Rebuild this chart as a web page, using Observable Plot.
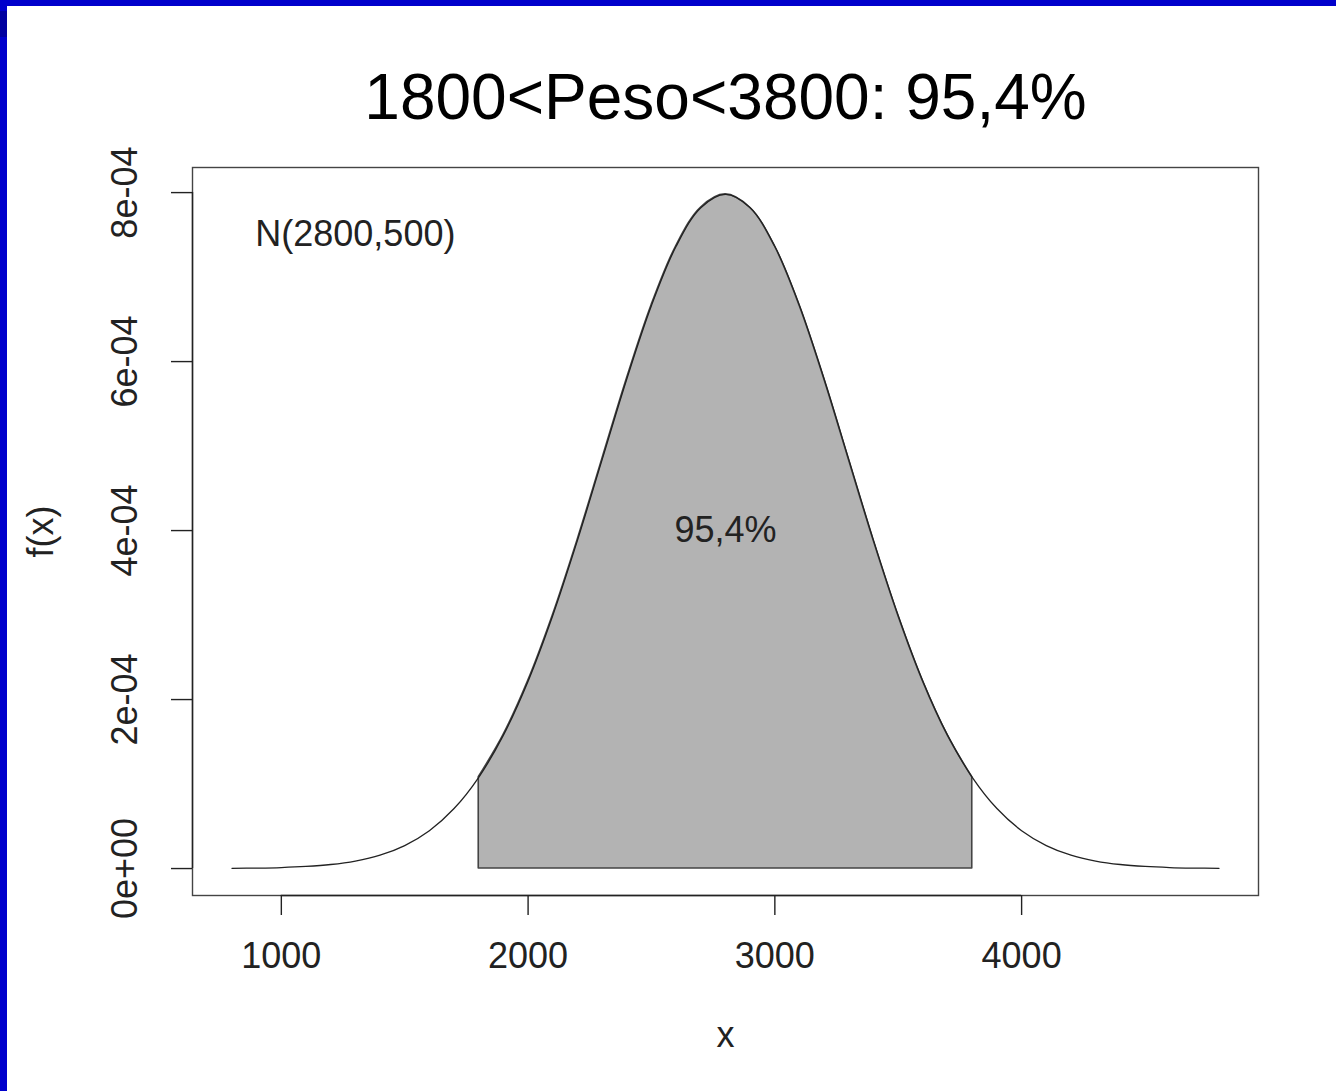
<!DOCTYPE html>
<html>
<head>
<meta charset="utf-8">
<script src="https://cdn.jsdelivr.net/npm/d3@7"></script>
<script src="https://cdn.jsdelivr.net/npm/@observablehq/plot@0.6"></script>
<style>
  html, body { margin: 0; padding: 0; background: #fff; }
  #wrap { position: relative; width: 1336px; height: 1091px; overflow: hidden; font-family: "Liberation Sans", Arial, sans-serif; }
  #chart { position: absolute; left: 0; top: 0; }
  .bar-top { position: absolute; left: 0; top: 0; width: 1336px; height: 6px; background: #0000cc; }
  .bar-left { position: absolute; left: 0; top: 0; width: 7px; height: 1091px; background: #0000cc; }
  .bar-dark { position: absolute; left: 0; top: 11px; width: 7px; height: 26px; background: #0000a0; }
</style>
</head>
<body>
<div id="wrap">
  <div id="chart"></div>
  <div class="bar-top"></div>
  <div class="bar-left"></div>
  <div class="bar-dark"></div>
</div>
<script>
// x grid of the plotted curve
const xs = [800, 900, 1000, 1100, 1200, 1300, 1400, 1500, 1600, 1700,
            1800, 1900, 2000, 2100, 2200, 2300, 2400, 2500, 2600, 2700,
            2800, 2900, 3000, 3100, 3200, 3300, 3400, 3500, 3600, 3700,
            3800, 3900, 4000, 4100, 4200, 4300, 4400, 4500, 4600, 4700, 4800];
// density values, N(2800,500)
const fx = [2.7e-7, 5.8e-7, 1.2e-6, 2.5e-6, 4.8e-6, 8.9e-6, 1.58e-5, 2.72e-5, 4.48e-5, 7.10e-5,
            1.080e-4, 1.579e-4, 2.218e-4, 2.995e-4, 3.884e-4, 4.839e-4, 5.794e-4, 6.664e-4, 7.365e-4, 7.821e-4,
            7.979e-4, 7.821e-4, 7.365e-4, 6.664e-4, 5.794e-4, 4.839e-4, 3.884e-4, 2.995e-4, 2.218e-4, 1.579e-4,
            1.080e-4, 7.10e-5, 4.48e-5, 2.72e-5, 1.58e-5, 8.9e-6, 4.8e-6, 2.5e-6, 1.2e-6, 5.8e-7, 2.7e-7];
const shadeFrom = 1800;
const shadeTo = 3800;
const xTicks = [1000, 2000, 3000, 4000];
const yTicks = [0, 2e-4, 4e-4, 6e-4, 8e-4];
const yTickLabels = ["0e+00", "2e-04", "4e-04", "6e-04", "8e-04"];
const titleText = "1800<Peso<3800: 95,4%";
const distLabel = {x: 1300, y: 7.5e-4, text: "N(2800,500)"};
const pctLabel = {x: 2800, y: 4e-4, text: "95,4%"};
const xLabel = "x";
const yLabel = "f(x)";

const curve = xs.map((x, i) => ({x, y: fx[i]}));
const shaded = curve.filter(d => d.x >= shadeFrom && d.x <= shadeTo);
const yTickData = yTicks.map((v, i) => ({v, label: yTickLabels[i]}));

const xDomain = [640, 4960];
const yDomain = [-3.19e-5, 8.297e-4];
const ink = "#222";

const chart = Plot.plot({
  width: 1336,
  height: 1091,
  marginLeft: 192,
  marginRight: 78,
  marginTop: 167,
  marginBottom: 196,
  x: {domain: xDomain},
  y: {domain: yDomain},
  style: {fontFamily: "'Liberation Sans', Arial, sans-serif", fontSize: "36px", color: ink, background: "transparent", overflow: "visible"},
  marks: [
    Plot.areaY(shaded, {x: "x", y: "y", fill: "#b3b3b3", stroke: "#444", strokeWidth: 1.6, curve: "catmull-rom"}),
    Plot.line(curve, {x: "x", y: "y", stroke: "#222", strokeWidth: 1.3, curve: "catmull-rom"}),
    Plot.frame({stroke: "#444", strokeWidth: 1.4}),
    Plot.axisX({ticks: xTicks, tickSize: 20, tickPadding: 27, fontSize: 36, strokeWidth: 1.4, label: null, tickFormat: d => String(d)}),
    Plot.ruleY([yDomain[0]], {x1: xTicks[0], x2: xTicks[xTicks.length - 1], stroke: "#222", strokeWidth: 1.6}),
    Plot.axisY({ticks: yTicks, tickSize: 21, tickFormat: () => "", label: null, strokeWidth: 1.4}),
    Plot.ruleX([xDomain[0]], {y1: yTicks[0], y2: yTicks[yTicks.length - 1], stroke: "#222", strokeWidth: 1.4}),
    Plot.text(yTickData, {y: "v", text: "label", frameAnchor: "left", textAnchor: "middle", lineAnchor: "middle", dx: -67, rotate: -90, fontSize: 36, fill: ink}),
    Plot.text([yLabel], {text: d => d, frameAnchor: "left", textAnchor: "middle", lineAnchor: "middle", dx: -151, rotate: -90, fontSize: 36, fill: ink}),
    Plot.text([xLabel], {text: d => d, frameAnchor: "bottom", lineAnchor: "middle", dy: 140, fontSize: 36, fill: ink}),
    Plot.text([distLabel], {x: "x", y: "y", text: "text", fontSize: 36, fill: ink}),
    Plot.text([pctLabel], {x: "x", y: "y", text: "text", fontSize: 36, fill: ink}),
    Plot.text([titleText], {text: d => d, frameAnchor: "top", lineAnchor: "middle", dy: -69, fontSize: 64, fill: "#000"})
  ]
});
document.getElementById("chart").appendChild(chart);
</script>
</body>
</html>
